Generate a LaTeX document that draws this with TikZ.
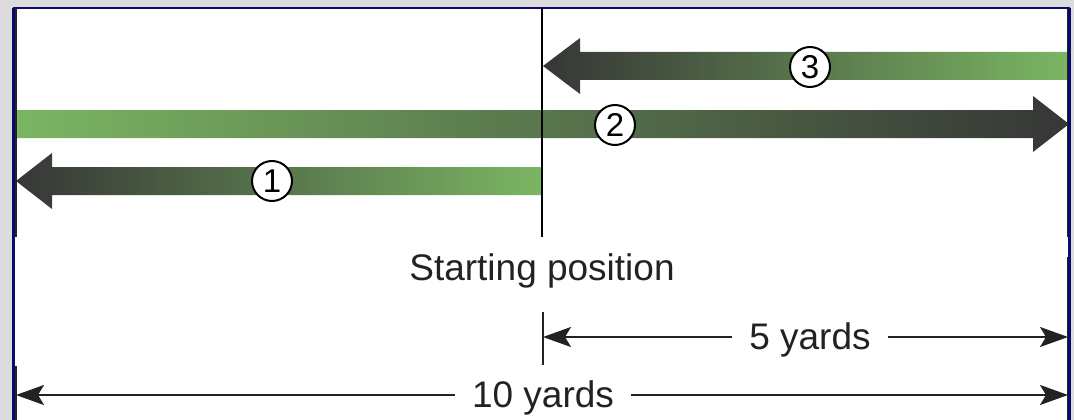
\documentclass[tikz,border=0pt]{standalone}
\usepackage{fontspec}
\setmainfont{Liberation Sans}
\usetikzlibrary{arrows.meta}
\definecolor{bggray}{HTML}{DCDCDC}
\definecolor{framenavy}{HTML}{0B0B6B}
\definecolor{bargreen}{HTML}{7BB663}
\definecolor{bardark}{HTML}{363636}
\definecolor{inkdark}{HTML}{222222}

\begin{document}
\begin{tikzpicture}[x=1pt,y=-1pt,
  num/.style={circle, draw=black, line width=2pt, fill=white,
    minimum size=40pt, inner sep=0pt, font=\fontsize{33}{33}\selectfont},
  txt/.style={font=\fontsize{37}{37}\selectfont, text=inkdark, inner sep=0pt},
  dimtxt/.style={txt, inner xsep=17pt},
  dim/.style={line width=2pt, draw=inkdark,
    -{Stealth[length=28pt,width=20pt,inset=6pt]}},
  extline/.style={line width=1.6pt, draw=inkdark}
]
\useasboundingbox (0,0) rectangle (1074,420);

% page background and white panel
\fill[bggray] (0,0) rectangle (1074,420);
\fill[white] (13,8) rectangle (1069.5,420);

% movement arrows (bar plus head, shaded from green to dark)
\shade[left color=bardark, right color=bargreen]
  (543,66) -- (580,38) -- (580,52) -- (1070,52) -- (1070,80)
  -- (580,80) -- (580,94) -- cycle;
\shade[left color=bargreen, right color=bardark]
  (14,110) -- (1033,110) -- (1033,96) -- (1069,124) -- (1033,152)
  -- (1033,138) -- (14,138) -- cycle;
\shade[left color=bardark, right color=bargreen]
  (16,181) -- (52,153) -- (52,167) -- (542,167) -- (542,195)
  -- (52,195) -- (52,209) -- cycle;

% frame
\draw[framenavy, line width=2.5pt] (13,8) -- (1069.5,8);
\draw[framenavy, line width=3pt] (13,8) -- (13,420);
\draw[framenavy, line width=2.5pt] (1069.5,8) -- (1069.5,420);

% extension lines along the frame
\draw[extline] (16,8) -- (16,237);
\draw[extline] (16,366) -- (16,420);
\draw[extline] (1067.5,8) -- (1067.5,237);
\draw[extline] (1067.5,257) -- (1067.5,420);

% starting line
\draw[black, line width=1.5pt] (542,8) -- (542,237);

% circled step numbers
\node[num] (n1) at (272,181) {1};
\node[num] (n2) at (615,125) {2};
\node[num] (n3) at (810,67) {3};

% labels
\node[txt, anchor=base] (start) at (542,280) {Starting position};

% dimension: 5 yards
\coordinate (d5l) at (543,337);
\coordinate (d5r) at (1068,337);
\draw[extline, line width=2pt] (543,312) -- (543,365);
\node[dimtxt, anchor=base] (five) at (810,349) {5 yards};
\draw[dim] (five.west |- d5l) -- (d5l);
\draw[dim] (five.east |- d5r) -- (d5r);

% dimension: 10 yards
\coordinate (d10l) at (16,395);
\coordinate (d10r) at (1068,395);
\node[dimtxt, anchor=base] (ten) at (543,407) {10 yards};
\draw[dim] (ten.west |- d10l) -- (d10l);
\draw[dim] (ten.east |- d10r) -- (d10r);
\end{tikzpicture}
\end{document}
